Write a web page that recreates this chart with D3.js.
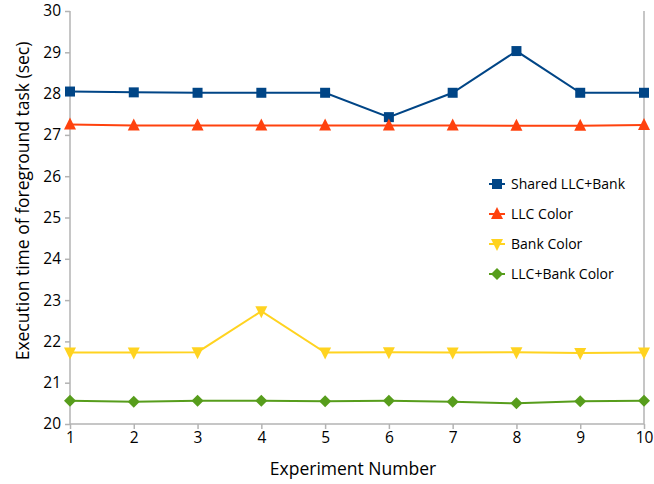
<!DOCTYPE html>
<html><head><meta charset="utf-8">
<script src="https://cdn.jsdelivr.net/npm/d3@7"></script>
<style>body{margin:0;background:#fff}svg{display:block}</style>
</head><body><svg id="c" width="654" height="484"></svg>
<script>
const experiments = [1,2,3,4,5,6,7,8,9,10];
const seriesNames = ["Shared LLC+Bank","LLC Color","Bank Color","LLC+Bank Color"];
const sharedVals = [28.05,28.03,28.02,28.02,28.02,27.43,28.02,29.03,28.02,28.02];
const llcVals = [27.25,27.23,27.23,27.23,27.23,27.23,27.23,27.22,27.22,27.24];
const bankVals = [21.73,21.73,21.74,22.73,21.73,21.74,21.73,21.74,21.72,21.73];
const bothVals = [20.56,20.54,20.56,20.56,20.55,20.56,20.54,20.50,20.55,20.56];
const yTicks = [20,21,22,23,24,25,26,27,28,29,30];
const colors = ["#004586","#ff420e","#ffd320","#579d1c"];
const FONT = "'Open Sans', sans-serif";

const svg = d3.select("#c");
const L=70,R=644,T=11,B=424;
const x = d3.scaleLinear().domain([1,10]).range([L,R]);
const y = d3.scaleLinear().domain([20,30]).range([B,T]);

const axisColor="#b3b3b3";
const yAxis = svg.append("g").attr("transform",`translate(${L},0)`)
  .call(d3.axisLeft(y).tickValues(yTicks).tickSize(5).tickPadding(4).tickFormat(d3.format("d")));
const xAxis = svg.append("g").attr("transform",`translate(0,${B})`)
  .call(d3.axisBottom(x).tickValues(experiments).tickSize(5).tickPadding(3).tickFormat(d3.format("d")));
[yAxis,xAxis].forEach(g=>{
  g.select(".domain").attr("stroke",axisColor).attr("stroke-width",1.5);
  g.selectAll(".tick line").attr("stroke",axisColor).attr("stroke-width",1.5);
  g.selectAll(".tick text").attr("font-size",15.5).attr("font-family",FONT).attr("fill","#000");
});
yAxis.select(".domain").attr("d",`M0,${T}V${B}`);
xAxis.select(".domain").attr("d",`M${L},0H${R}`);
svg.append("line").attr("x1",R).attr("x2",R).attr("y1",T).attr("y2",B).attr("stroke",axisColor).attr("stroke-width",1.5);

const data = [sharedVals,llcVals,bankVals,bothVals];
const line = d3.line().x((d,i)=>x(experiments[i])).y(d=>y(d));
function marker(g, k, cx, cy){
  let d;
  if(k===0){ const s=5; d=`M${cx-s},${cy-s}H${cx+s}V${cy+s}H${cx-s}Z`; }
  else if(k===1){ const s=6; d=`M${cx-s},${cy+5}L${cx+s},${cy+5}L${cx},${cy-7}Z`; }
  else if(k===2){ const s=6; d=`M${cx-s},${cy-5}L${cx+s},${cy-5}L${cx},${cy+7}Z`; }
  else { const s=6; d=`M${cx},${cy-s}L${cx+s},${cy}L${cx},${cy+s}L${cx-s},${cy}Z`; }
  g.append("path").attr("d",d).attr("fill",colors[k]);
}
data.forEach((vals,k)=>{
  const g = svg.append("g");
  g.append("path").attr("d",line(vals)).attr("fill","none").attr("stroke",colors[k]).attr("stroke-width",2);
  vals.forEach((v,i)=>marker(g,k,x(experiments[i]),y(v)));
});

// legend
const lg = svg.append("g");
seriesNames.forEach((n,k)=>{
  const yy = 184 + k*30;
  lg.append("line").attr("x1",489).attr("x2",505).attr("y1",yy).attr("y2",yy).attr("stroke",colors[k]).attr("stroke-width",2);
  marker(lg,k,497,yy);
  lg.append("text").attr("x",511).attr("y",yy+5).attr("font-size",14).attr("font-family",FONT).text(n);
});

svg.append("text").attr("x",353).attr("y",475).attr("text-anchor","middle").attr("font-size",17.5).attr("font-family",FONT).text("Experiment Number");
svg.append("text").attr("transform","translate(29,201) rotate(-90)").attr("text-anchor","middle").attr("font-size",17.5).attr("font-family",FONT).text("Execution time of foreground task (sec)");
</script></body></html>
